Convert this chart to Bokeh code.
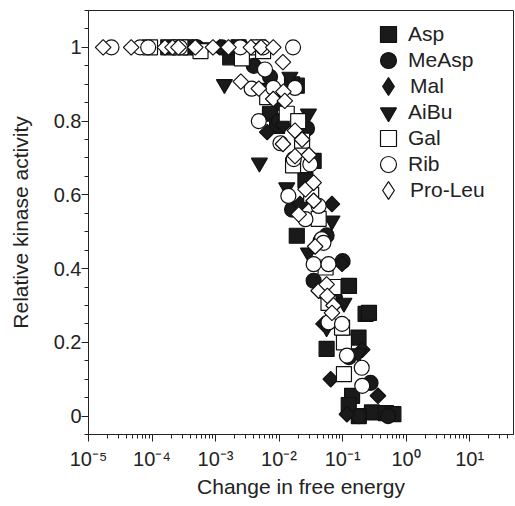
import math
from bokeh.plotting import figure
from bokeh.models import (FixedTicker, CustomJSTickFormatter, Legend, LegendItem,
                          ColumnDataSource)
from bokeh.embed import file_html
from bokeh.resources import INLINE

# ---------------- data ----------------
asp_x = [1.8e-4, 4.0e-4, 2.3e-3, 1.7e-3, 0.019, 0.016, 7.2e-3, 9.3e-3, 0.035, 0.026,
         0.019, 0.126, 0.23, 0.26, 0.178, 0.056, 0.141, 0.29, 0.48, 0.63, 0.18, 0.125]
asp_y = [1.0, 1.0, 1.0, 0.973, 0.896, 0.90, 0.82, 0.787, 0.692, 0.64,
         0.489, 0.353, 0.277, 0.28, 0.213, 0.182, 0.055, 0.01, 0.008, 0.005, 0.0, 0.03]

measp_x = [5.1e-4, 1.26e-3, 2.6e-3, 4.0e-3, 7.2e-3, 0.0275, 0.045, 0.056, 0.035,
           0.076, 0.126, 0.275, 0.18, 0.52, 0.1, 0.016, 0.01]
measp_y = [1.0, 1.0, 1.0, 0.95, 0.92, 0.78, 0.475, 0.49, 0.367,
           0.32, 0.16, 0.09, 0.0, 0.0, 0.42, 0.56, 0.80]

mal_x = [4.3e-4, 1.17e-3, 1.9e-3, 4.4e-3, 6.5e-3, 0.0117, 0.0214, 0.068, 0.098,
         0.065, 0.204, 0.36, 0.117, 0.045, 0.05, 0.01]
mal_y = [1.0, 1.0, 1.0, 1.0, 0.77, 0.79, 0.575, 0.575, 0.413,
         0.10, 0.18, 0.055, 0.005, 0.34, 0.25, 0.85]

aibu_x = [6.9e-4, 1.7e-3, 1.38e-3, 4.9e-3, 0.029, 0.0132, 0.068, 0.029, 0.105,
          0.0148, 5.8e-3, 0.178, 0.056]
aibu_y = [1.0, 1.0, 0.90, 0.687, 0.82, 0.62, 0.53, 0.443, 0.307,
          0.92, 0.89, 0.17, 0.24]

gal_x = [9.3e-5, 2.8e-4, 5.8e-4, 4.7e-3, 5.6e-3, 2.6e-3, 0.0132, 0.02, 0.0166,
         0.023, 0.042, 0.054, 0.06, 0.105, 0.105, 6.5e-3, 0.072, 0.098, 0.032]
gal_y = [1.0, 1.0, 0.99, 1.0, 0.99, 0.97, 0.82, 0.80, 0.68,
         0.747, 0.535, 0.403, 0.307, 0.20, 0.114, 0.865, 0.35, 0.24, 0.60]

rib_x = [2.3e-5, 6.5e-5, 8.7e-5, 2.75e-4, 2.45e-3, 5.6e-3, 0.0166, 6.0e-3, 3.7e-3,
         0.0178, 8.1e-3, 4.8e-3, 0.0105, 0.017, 0.031, 0.014, 0.026, 0.042, 0.047,
         0.05, 0.035, 0.06, 0.06, 0.098, 0.117, 0.2, 0.204]
rib_y = [1.0, 1.0, 1.0, 1.0, 1.0, 1.0, 1.0, 0.94, 0.888,
         0.89, 0.89, 0.80, 0.74, 0.697, 0.683, 0.597, 0.534, 0.57, 0.48,
         0.47, 0.412, 0.412, 0.254, 0.25, 0.164, 0.131, 0.082]

proleu_x = [1.7e-5, 4.7e-5, 1.6e-4, 2.1e-4, 2.6e-4, 4.8e-4, 9.1e-4, 1.6e-3, 3.6e-3,
            5.2e-3, 8.1e-3, 2.5e-3, 4.8e-3, 8.1e-3, 0.0115, 0.0117, 0.0123, 0.0115,
            0.0178, 0.023, 0.0178, 0.0295, 0.026, 0.035, 0.035, 0.0204, 0.037,
            0.042, 0.056, 0.0575, 0.072, 0.068]
proleu_y = [1.0, 1.0, 1.0, 1.0, 1.0, 1.0, 1.0, 1.0, 1.0,
            1.0, 1.0, 0.907, 0.888, 0.86, 0.96, 0.88, 0.855, 0.738,
            0.774, 0.75, 0.705, 0.708, 0.615, 0.633, 0.584, 0.547, 0.46,
            0.34, 0.357, 0.326, 0.30, 0.28]

x_major_ticks = [1e-5, 1e-4, 1e-3, 1e-2, 1e-1, 1e0, 1e1]
y_major_ticks = [0, 0.2, 0.4, 0.6, 0.8, 1.0]

# ---------------- figure ----------------
FONT = "Liberation Sans"
INK = "#222222"
p = figure(width=515, height=506, x_axis_type="log",
           x_range=(1e-5, 49), y_range=(-0.05, 1.1),
           output_backend="svg", toolbar_location=None,
           min_border_left=88, min_border_right=2, min_border_top=10,
           min_border_bottom=72)
p.grid.visible = False
p.outline_line_color = INK
p.outline_line_width = 1
p.background_fill_color = "white"
p.border_fill_color = "white"

x_minor = []
for d in range(-5, 2):
    for m in range(2, 10):
        v = m * 10.0 ** d
        if v < 49:
            x_minor.append(v)
y_minor = [round(-0.05 + 0.05 * i, 2) for i in range(24)]

p.xaxis.ticker = FixedTicker(ticks=x_major_ticks, minor_ticks=x_minor)
p.yaxis.ticker = FixedTicker(ticks=y_major_ticks, minor_ticks=y_minor)

p.xaxis.formatter = CustomJSTickFormatter(code="""
const e = Math.round(Math.log10(tick));
const sup = {'-':'\u207b','0':'\u2070','1':'\u00b9','2':'\u00b2','3':'\u00b3','4':'\u2074',
             '5':'\u2075','6':'\u2076','7':'\u2077','8':'\u2078','9':'\u2079'};
return '10' + String(e).split('').map(c => sup[c]).join('');
""")
p.yaxis.formatter = CustomJSTickFormatter(code="return Number(tick.toFixed(2)).toString();")

for ax in (p.xaxis[0], p.yaxis[0]):
    ax.axis_line_color = INK
    ax.major_tick_line_color = INK
    ax.minor_tick_line_color = INK
    ax.major_tick_out = 7
    ax.major_tick_in = 0
    ax.minor_tick_out = 4
    ax.minor_tick_in = 0
    ax.major_label_text_font = FONT
    ax.major_label_text_font_size = "20px"
    ax.major_label_text_color = INK
    ax.axis_label_text_font = FONT
    ax.axis_label_text_font_size = "21px"
    ax.axis_label_text_font_style = "normal"
    ax.axis_label_text_color = INK

p.xaxis.axis_label = "Change in free energy"
p.yaxis.axis_label = "Relative kinase activity"
p.xaxis.major_label_standoff = 6
p.yaxis.major_label_standoff = 0
p.xaxis.axis_label_standoff = 2
p.yaxis.axis_label_standoff = 19

FILL = "#1a1a1a"
LW = 1.2
series = [
    ("Asp", asp_x, asp_y, "square", 15, FILL, 0.0),
    ("MeAsp", measp_x, measp_y, "circle", 15, FILL, 0.0),
    ("Mal", mal_x, mal_y, "square", 11, FILL, math.pi / 4),
    ("AiBu", aibu_x, aibu_y, "inverted_triangle", 16, FILL, 0.0),
    ("Gal", gal_x, gal_y, "square", 15, "white", 0.0),
    ("Rib", rib_x, rib_y, "circle", 15, "white", 0.0),
    ("Pro-Leu", proleu_x, proleu_y, "square", 11, "white", math.pi / 4),
]

# one small legend per row, so that the keys can be large while rows stay close
ROW_STEP = 26
for i, (name, xs, ys, marker, size, fill, ang) in enumerate(series):
    src = ColumnDataSource(dict(x=xs, y=ys))
    r = p.scatter("x", "y", source=src, marker=marker, size=size, angle=ang,
                  fill_color=fill, line_color="#111111", line_width=LW)
    key = r
    box = 40
    if ang != 0.0:
        # legend keys are drawn unrotated, so use Bokeh's diamond for the key
        key = p.scatter(x=xs[:1], y=ys[:1], marker="diamond", fill_color=fill,
                        line_color="#111111", line_width=LW, visible=False)
        box = 44
    lg = Legend(items=[LegendItem(label=name, renderers=[key])],
                location=(300 - box / 2, 400 - ROW_STEP * i - box / 2))
    lg.border_line_color = None
    lg.background_fill_alpha = 0
    lg.padding = 0
    lg.margin = 0
    lg.glyph_width = box
    lg.glyph_height = box
    lg.label_height = box
    lg.label_standoff = 18 - box // 2
    lg.label_text_font = FONT
    lg.label_text_font_size = "21px"
    lg.label_text_color = INK
    p.add_layout(lg, "center")

open("out.html", "w").write(file_html(p, INLINE))
